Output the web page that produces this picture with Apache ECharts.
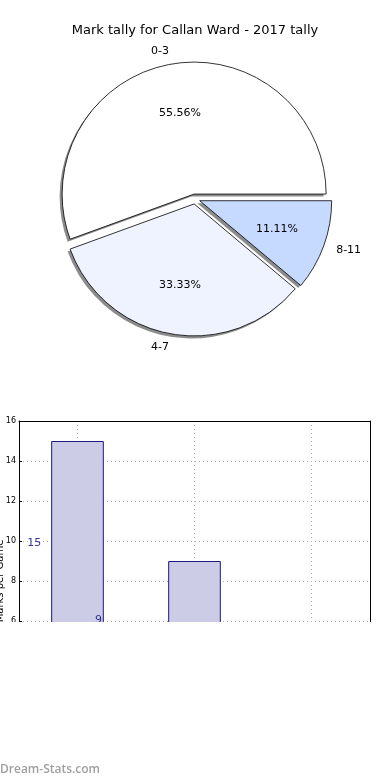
<!DOCTYPE html>
<html><head><meta charset="utf-8">
<script src="https://cdn.jsdelivr.net/npm/echarts@6/dist/echarts.min.js"></script>
<style>html,body{margin:0;padding:0;background:#fff}#c{width:390px;height:780px}</style>
</head><body><div id="c"></div>
<script>
const titleText = 'Mark tally for Callan Ward - 2017 tally';
const tallyCategories = ['0-3', '4-7', '8-11'];
const tallyCounts = [5, 3, 1];
const sliceColors = ['#ffffff', '#eef3ff', '#c6d9ff'];
const barCategories = ['1', '2', '3'];
const barValues = [15, 9, 0];
const yMin = 0, yMax = 16, yStep = 2;
const valueTexts = ['15', '9'];
const valueTextX = [-0.37, 0.18];
const valueTextY = [9.9, 6.05];
const yAxisTitle = 'Marks per Game';
const watermark = 'Dream-Stats.com';

const R = 132;
const CX = 195, CY = 199;
const FONT = 'DejaVu Sans';
const pieData = tallyCategories.map((c, i) => ({
  name: c, value: tallyCounts[i], selected: true, itemStyle: { color: sliceColors[i] }
}));
const plainData = tallyCategories.map((c, i) => ({ name: c, value: tallyCounts[i], selected: true }));
const textPoints = valueTexts.map((t, i) => [valueTextX[i], valueTextY[i]]);

const chart = echarts.init(document.getElementById('c'));
chart.setOption({
  animation: false,
  title: {
    text: titleText, left: 'center', top: 19,
    textStyle: { fontFamily: FONT, fontSize: 13, fontWeight: 'normal', color: '#000' }
  },
  grid: { left: 19, right: 20, top: 421, height: 320, outerBoundsMode: 'none', containLabel: false },
  xAxis: [
    {
      type: 'category', data: barCategories, position: 'bottom',
      axisLine: { show: false, onZero: false }, axisTick: { show: false }, axisLabel: { show: false },
      splitLine: { show: true, alignWithLabel: true, lineStyle: { color: '#b0b0b0', type: [1, 3], width: 1 } }
    },
    {
      type: 'category', data: barCategories, position: 'top',
      axisLine: { show: true, onZero: false, lineStyle: { color: '#000', width: 1 } },
      axisTick: { show: false }, axisLabel: { show: false }, splitLine: { show: false }
    },
    { type: 'value', min: -0.5, max: 2.5, show: false, axisLine: { onZero: false } }
  ],
  yAxis: [
    {
      type: 'value', min: yMin, max: yMax, interval: yStep, position: 'left',
      name: yAxisTitle, nameLocation: 'middle', nameGap: 14, nameMoveOverlap: false,
      nameTextStyle: { fontFamily: FONT, fontSize: 10, color: '#000' },
      axisLine: { show: true, onZero: false, lineStyle: { color: '#000', width: 1 } },
      axisTick: { show: true, inside: true, length: 3, lineStyle: { color: '#000' } },
      axisLabel: { fontFamily: FONT, fontSize: 8, color: '#000', margin: 3 },
      splitLine: { show: true, lineStyle: { color: '#b0b0b0', type: [1, 3], width: 1 } }
    },
    {
      type: 'value', min: yMin, max: yMax, interval: yStep, position: 'right',
      axisLine: { show: true, onZero: false, lineStyle: { color: '#000', width: 1 } },
      axisTick: { show: false }, axisLabel: { show: false }, splitLine: { show: false }
    }
  ],
  series: [
    {
      type: 'pie', center: [CX - 2.5, CY + 2.5], radius: R, startAngle: 0, clockwise: false,
      selectedMode: 'multiple', selectedOffset: 5, avoidLabelOverlap: false, silent: true, z: 1,
      itemStyle: { color: '#8c8c8c', borderWidth: 0 },
      label: { show: false }, labelLine: { show: false },
      emphasis: { disabled: true },
      data: plainData
    },
    {
      type: 'pie', center: [CX, CY], radius: R, startAngle: 0, clockwise: false,
      selectedMode: 'multiple', selectedOffset: 5, avoidLabelOverlap: false, silent: true, z: 2,
      itemStyle: { borderColor: '#000', borderWidth: 0.8 },
      label: { show: true, position: 'outside', fontFamily: FONT, fontSize: 11, color: '#000', distanceToLabelLine: 0 },
      labelLine: { show: false, length: R * 0.1, length2: 0 },
      emphasis: { disabled: true },
      data: pieData
    },
    {
      type: 'pie', center: [CX, CY], radius: R * 1.2, startAngle: 0, clockwise: false,
      selectedMode: 'multiple', selectedOffset: 5, avoidLabelOverlap: false, silent: true, z: 3,
      itemStyle: { color: 'rgba(0,0,0,0)', borderWidth: 0 },
      label: { show: true, position: 'inside', formatter: '{d}%', fontFamily: FONT, fontSize: 11, color: '#000' },
      labelLine: { show: false },
      emphasis: { disabled: true },
      data: plainData
    },
    {
      type: 'bar', xAxisIndex: 0, yAxisIndex: 0, data: barValues, barWidth: '45%',
      itemStyle: { color: '#ccccE6', borderColor: '#1a1a80', borderWidth: 1 },
      silent: true
    },
    {
      type: 'scatter', xAxisIndex: 2, yAxisIndex: 0, data: textPoints, symbolSize: 1,
      itemStyle: { color: 'rgba(0,0,0,0)' }, silent: true,
      label: {
        show: true, position: 'inside', fontFamily: FONT, fontSize: 11, color: '#000080',
        formatter: p => valueTexts[p.dataIndex]
      }
    }
  ],
  graphic: [
    { type: 'rect', z: 100, shape: { x: 0, y: 622, width: 390, height: 140 }, style: { fill: '#fff' } },
    {
      type: 'text', z: 101, left: 0, top: 764,
      style: { text: watermark, fill: '#a0a0a0', font: '600 12px "Open Sans"' }
    }
  ]
});
</script></body></html>
